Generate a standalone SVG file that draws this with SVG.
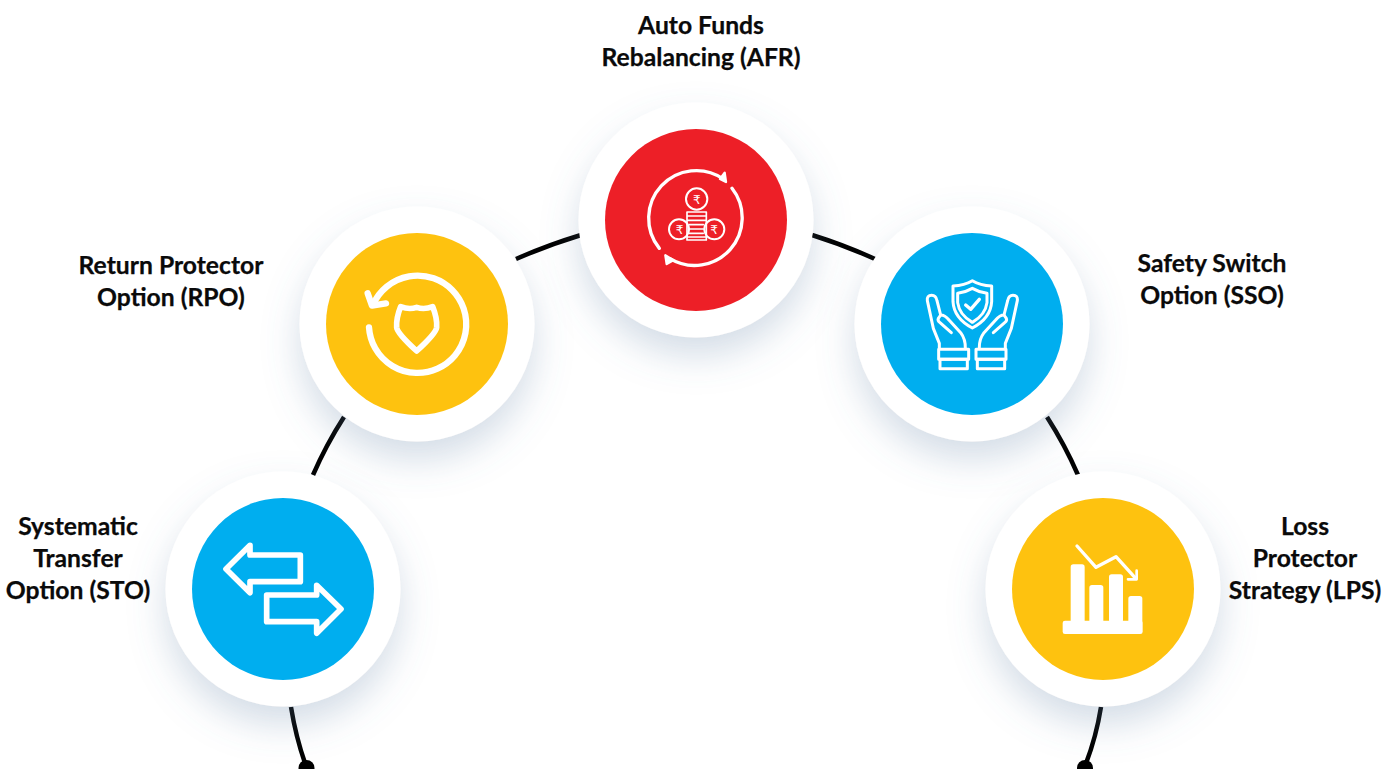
<svg xmlns="http://www.w3.org/2000/svg" width="1397" height="769" viewBox="0 0 1397 769">
<style>
.lbl{font-family:"Lato","Open Sans","Liberation Sans",sans-serif;font-weight:700;font-size:24.700px;fill:#0a0a0a;stroke:#0a0a0a;stroke-width:.25;text-anchor:middle}
.conn{fill:none;stroke:#000;stroke-width:4.500}
.ic{fill:none;stroke:#fff;stroke-linecap:round;stroke-linejoin:round}
.rs{font-family:"DejaVu Sans",sans-serif;font-size:12px;fill:#fff;text-anchor:middle;font-weight:400}
</style>
<defs>
<filter id="sh" x="-30%" y="-30%" width="160%" height="170%">
<feDropShadow dx="0" dy="18" stdDeviation="18" flood-color="#5f7fa5" flood-opacity=".27"/>
</filter>
<g id="hand">
<path d="M118 266V250L100 205L82 122Q80 106 95 106Q108 106 111 122L122 165Q135 165 147 180L182 218Q197 238 196 266"/>
<path d="M122 165L115 175Q112 182 120 188L154 218"/>
<rect x="116" y="268" width="90" height="30"/>
<rect x="120" y="298" width="82" height="28"/>
</g>
</defs>
<rect width="1397" height="769" fill="#fff"/>
<g id="connectors">
<path class="conn" d="M581 235Q548 245 516 259"/>
<path class="conn" d="M812 235Q844 245 875 259"/>
<path class="conn" d="M344 417Q326 445 313 475"/>
<path class="conn" d="M1047 417Q1065 445 1078 475"/>
<path class="conn" d="M291 707Q296 738 306 766"/>
<path class="conn" d="M1101 707Q1096 738 1085 766"/>
<circle cx="306.500" cy="768" r="8" fill="#000"/>
<circle cx="1085" cy="768" r="8" fill="#000"/>
</g>
<g id="node-afr">
<circle cx="696" cy="220" r="117.500" fill="#fff" filter="url(#sh)"/>
<circle cx="696" cy="220" r="91" fill="#ed1f27"/>
<g transform="translate(620 150) scale(.33333)" class="ic">
<path stroke-width="10" d="M118 295A143 143 0 0 1 310 87"/>
<path stroke-width="7" fill="#fff" d="M314 68L318 96L300 87Z"/>
<path stroke-width="10" d="M336 115A143 143 0 0 1 150 326"/>
<path stroke-width="7" fill="#fff" d="M136 316L140 342L160 331Z"/>
<circle cx="230" cy="147" r="32" stroke-width="6"/>
<circle cx="177" cy="238" r="30" stroke-width="6"/>
<circle cx="283" cy="238" r="30" stroke-width="6"/>
<path stroke-width="5" d="M201 186H259V270H201ZM203 198H257M203 211H257M208 224H250M208 237H250M208 250H250M204 261H256"/>
</g>
<text class="rs" x="696.700" y="203.500">₹</text>
<text class="rs" x="679.500" y="234">₹</text>
<text class="rs" x="714" y="234">₹</text>
</g>
<g id="node-rpo">
<circle cx="417" cy="324" r="117.500" fill="#fff" filter="url(#sh)"/>
<circle cx="417" cy="324" r="91" fill="#fec20f"/>
<g transform="translate(340 250) scale(.33333)" class="ic" stroke-width="19">
<path d="M87 232A146 146 0 1 0 100 162"/>
<path d="M83 130L96 167L138 160"/>
<path stroke-width="17" d="M182 170Q208 180 230 172Q252 180 278 170Q292 205 290 232Q288 250 230 303Q172 250 170 232Q168 205 182 170Z"/>
</g>
</g>
<g id="node-sso">
<circle cx="972" cy="324" r="117.500" fill="#fff" filter="url(#sh)"/>
<circle cx="972" cy="324" r="91" fill="#00aeef"/>
<g transform="translate(900 260) scale(.33333)" class="ic" stroke-width="9">
<path d="M217 62Q240 76 275 78V125Q272 175 217 204Q162 175 159 125V78Q194 76 217 62Z"/>
<path d="M217 85Q238 97 261 100V128Q256 165 217 187Q178 165 173 128V100Q196 97 217 85Z"/>
<path stroke-width="10" d="M197 135L212 148L238 118"/>
<use href="#hand"/>
<use href="#hand" transform="matrix(-1 0 0 1 434 0)"/>
</g>
</g>
<g id="node-sto">
<circle cx="283" cy="589" r="117.500" fill="#fff" filter="url(#sh)"/>
<circle cx="283" cy="589" r="91" fill="#00aeef"/>
<g transform="translate(210 530) scale(.33333)" class="ic" stroke-width="17">
<path d="M271 75H120V46L48 117L120 188V155H271Z"/>
<path d="M170 195H320V166L393 237L320 310V275H170Z"/>
</g>
</g>
<g id="node-lps">
<circle cx="1103" cy="589" r="117.500" fill="#fff" filter="url(#sh)"/>
<circle cx="1103" cy="589" r="91" fill="#fec20f"/>
<g transform="translate(1040 530) scale(.33333)">
<g fill="#fff">
<rect x="68" y="272" width="240" height="40" rx="7"/>
<rect x="92" y="103" width="42" height="180" rx="8"/>
<rect x="148" y="165" width="42" height="115" rx="8"/>
<rect x="207" y="133" width="42" height="145" rx="8"/>
<rect x="265" y="198" width="42" height="85" rx="8"/>
</g>
<path class="ic" stroke-width="10" d="M111 48L168 112L228 80L287 145"/>
<path class="ic" stroke-width="8" d="M264 148H290V122"/>
</g>
</g>
<g id="label-afr"><text class="lbl" x="701" y="34">Auto Funds</text><text class="lbl" x="701" y="66">Rebalancing (AFR)</text></g>
<g id="label-rpo"><text class="lbl" x="171" y="274">Return Protector</text><text class="lbl" x="171" y="306">Option (RPO)</text></g>
<g id="label-sso"><text class="lbl" x="1212" y="272">Safety Switch</text><text class="lbl" x="1212" y="304">Option (SSO)</text></g>
<g id="label-sto"><text class="lbl" x="78" y="535">Systematic</text><text class="lbl" x="78" y="567">Transfer</text><text class="lbl" x="78" y="599">Option (STO)</text></g>
<g id="label-lps"><text class="lbl" x="1305" y="535">Loss</text><text class="lbl" x="1305" y="567">Protector</text><text class="lbl" x="1305" y="599">Strategy (LPS)</text></g>
</svg>
